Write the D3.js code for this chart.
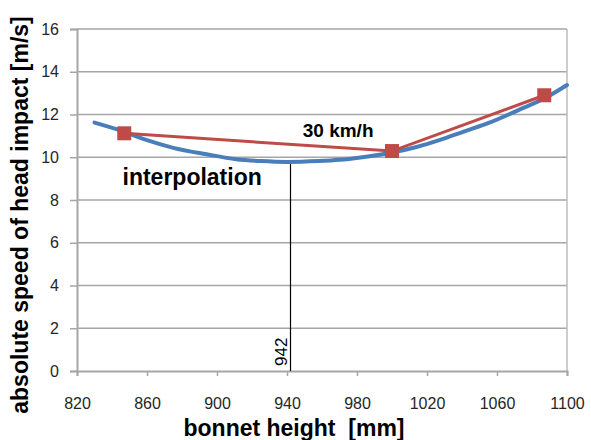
<!DOCTYPE html>
<html>
<head>
<meta charset="utf-8">
<script src="https://cdn.jsdelivr.net/npm/d3@7"></script>
<style>
  html, body { margin: 0; padding: 0; background: #fff; }
  svg { display: block; }
  text { font-family: "Liberation Sans", Arial, sans-serif; }
</style>
</head>
<body>
<svg id="chart" width="591" height="440"></svg>
<script>
// ---- data ----
const xTicks = [820, 860, 900, 940, 980, 1020, 1060, 1100];
const yTicks = [0, 2, 4, 6, 8, 10, 12, 14, 16];

// blue curve: continuous relation (bonnet height, speed)
const curveX = [830, 846, 860, 875, 894, 911, 925, 940, 958, 970, 982, 1000, 1014, 1027, 1041, 1056, 1075, 1087, 1100];
const curveY = [11.62, 11.22, 10.80, 10.44, 10.14, 9.91, 9.82, 9.78, 9.82, 9.88, 9.99, 10.22, 10.48, 10.80, 11.20, 11.63, 12.31, 12.75, 13.38];

// red series: 30 km/h sample points
const pointX = [847, 1000, 1087];
const pointY = [11.12, 10.29, 12.90];

// marker line for interpolated height
const markX = 942;
const markY = [0, 9.8];

const xTitle = "bonnet height  [mm]";
const yTitle = "absolute speed of head impact [m/s]";
const seriesLabel = "30 km/h";
const noteLabel = "interpolation";
const markLabel = "942";

// ---- layout ----
const W = 591, H = 440;
const margin = { left: 77, right: 24, top: 29, bottom: 69 };
const iw = W - margin.left - margin.right;
const ih = H - margin.top - margin.bottom;

const svg = d3.select("#chart");
const g = svg.append("g").attr("transform", `translate(${margin.left},${margin.top})`);

const x = d3.scaleLinear().domain([820, 1100]).range([0, iw]);
const y = d3.scaleLinear().domain([0, 16]).range([ih, 0]);

const gridColor = "#a6a6a6";

// horizontal gridlines
g.append("g").selectAll("line").data(yTicks.filter(d => d > 0)).join("line")
  .attr("x1", 0).attr("x2", iw)
  .attr("y1", d => y(d)).attr("y2", d => y(d))
  .attr("stroke", gridColor).attr("stroke-width", 1.5);

// right border
g.append("line")
  .attr("x1", iw).attr("x2", iw).attr("y1", 0).attr("y2", ih)
  .attr("stroke", "#bdbdbd").attr("stroke-width", 1.5);

// y axis
const yAxis = g.append("g")
  .call(d3.axisLeft(y).tickValues(yTicks).tickSize(7).tickPadding(11).tickFormat(d3.format("d")));
yAxis.select(".domain").attr("stroke", gridColor).attr("stroke-width", 2);
yAxis.selectAll(".tick line").attr("stroke", gridColor).attr("stroke-width", 1.5);
yAxis.selectAll(".tick text")
  .attr("font-size", 16).attr("fill", "#262626")
  .attr("font-family", "Liberation Sans, Arial, sans-serif");

// x axis
const xAxis = g.append("g").attr("transform", `translate(0,${ih})`)
  .call(d3.axisBottom(x).tickValues(xTicks).tickSize(5).tickPadding(22).tickFormat(d3.format("d")));
xAxis.select(".domain").attr("stroke", gridColor).attr("stroke-width", 2);
xAxis.selectAll(".tick line").attr("stroke", gridColor).attr("stroke-width", 1.5);
xAxis.selectAll(".tick text")
  .attr("font-size", 16).attr("fill", "#262626")
  .attr("font-family", "Liberation Sans, Arial, sans-serif");

// vertical marker line
g.append("line")
  .attr("x1", x(markX)).attr("x2", x(markX))
  .attr("y1", y(markY[0])).attr("y2", y(markY[1]))
  .attr("stroke", "#000").attr("stroke-width", 1.2);

// blue curve
const curveData = curveX.map((d, i) => [d, curveY[i]]);
g.append("path").datum(curveData)
  .attr("fill", "none").attr("stroke", "#4a7ebb").attr("stroke-width", 4)
  .attr("stroke-linejoin", "round").attr("stroke-linecap", "round")
  .attr("d", d3.line().x(d => x(d[0])).y(d => y(d[1])).curve(d3.curveMonotoneX));

// red series
const pointData = pointX.map((d, i) => [d, pointY[i]]);
g.append("path").datum(pointData)
  .attr("fill", "none").attr("stroke", "#be4b48").attr("stroke-width", 3)
  .attr("d", d3.line().x(d => x(d[0])).y(d => y(d[1])));
const ms = 14;
g.append("g").selectAll("rect").data(pointData).join("rect")
  .attr("x", d => x(d[0]) - ms / 2).attr("y", d => y(d[1]) - ms / 2)
  .attr("width", ms).attr("height", ms)
  .attr("fill", "#be4b48");

// labels in plot
g.append("text")
  .attr("x", x(949)).attr("y", y(10.95))
  .attr("font-size", 19).attr("font-weight", "bold").attr("fill", "#000")
  .text(seriesLabel);

g.append("text")
  .attr("x", x(846)).attr("y", y(8.72))
  .attr("font-size", 23).attr("font-weight", "bold").attr("fill", "#000")
  .text(noteLabel);

g.append("text")
  .attr("transform", `translate(${x(markX) - 3.5},${y(0) - 5}) rotate(-90)`)
  .attr("font-size", 17).attr("fill", "#000")
  .text(markLabel);

// axis titles
svg.append("text")
  .attr("x", 294).attr("y", 436)
  .attr("text-anchor", "middle")
  .attr("font-size", 23).attr("font-weight", "bold").attr("fill", "#000")
  .style("white-space", "pre")
  .text(xTitle);

svg.append("text")
  .attr("transform", `translate(28,215) rotate(-90)`)
  .attr("text-anchor", "middle")
  .attr("font-size", 23).attr("font-weight", "bold").attr("fill", "#000")
  .text(yTitle);
</script>
</body>
</html>
